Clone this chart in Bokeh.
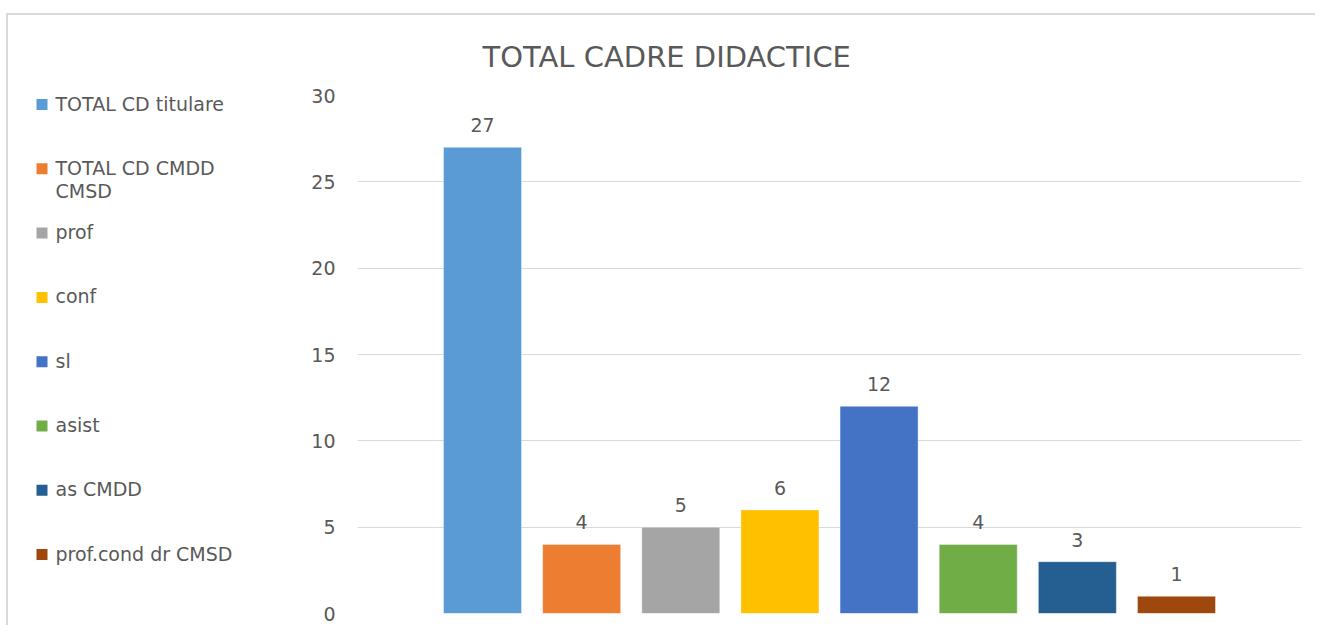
import textwrap
from bokeh.plotting import figure
from bokeh.layouts import row
from bokeh.models import ColumnDataSource, Range1d, SingleIntervalTicker, Title
from bokeh.core.properties import value
from bokeh.embed import file_html
from bokeh.resources import INLINE

# ---- data ----
categories = ["TOTAL CD titulare", "TOTAL CD CMDD CMSD", "prof", "conf", "sl",
              "asist", "as CMDD", "prof.cond dr CMSD"]
values = [27, 4, 5, 6, 12, 4, 3, 1]
colors = ["#5B9BD5", "#ED7D31", "#A5A5A5", "#FFC000", "#4472C4",
          "#70AD47", "#255E91", "#9E480E"]
y_ticks_interval = 5
y_max = 30
title_text = "TOTAL CADRE DIDACTICE"

FONT = "DejaVu Sans"
TXT = "#595959"
GRID = "#d9d9d9"
FS = "19px"

idx = list(range(len(categories)))
src = ColumnDataSource(dict(
    x=idx, top=values, color=colors, cat=categories,
    label=[str(v) for v in values],
    wrapped=["\n".join(textwrap.wrap(c, 17)) for c in categories],
))

# ---- legend panel ----
leg = figure(width=299, height=610, output_backend="svg", toolbar_location=None,
             x_range=Range1d(0, 299), y_range=Range1d(7.917, -0.14),
             min_border=0, x_axis_location=None, y_axis_location=None)
leg.grid.visible = False
leg.outline_line_color = None
leg.rect(x=33.5, y="x", width=11, height=11, width_units="screen",
         height_units="screen", fill_color="color", line_color=None, source=src)
leg.text(x=47, y="x", text="wrapped", source=src, text_font=value(FONT),
         text_font_size=FS, text_color=TXT, text_baseline="top",
         text_align="left", y_offset=-12, text_line_height=1.07)

# ---- main chart ----
p = figure(width=1008, height=610, output_backend="svg", toolbar_location=None,
           x_range=Range1d(-1.261, 8.261), y_range=Range1d(0, y_max),
           min_border_left=50, min_border_right=14, min_border_top=80,
           min_border_bottom=12, x_axis_location=None)
p.outline_line_color = None
p.xgrid.visible = False
p.ygrid.grid_line_color = GRID
p.ygrid.grid_line_width = 1
p.yaxis.ticker = SingleIntervalTicker(interval=y_ticks_interval)
p.yaxis.axis_line_color = None
p.yaxis.major_tick_line_color = None
p.yaxis.minor_tick_line_color = None
p.yaxis.major_label_text_font = FONT
p.yaxis.major_label_text_font_size = FS
p.yaxis.major_label_text_color = TXT
p.yaxis.major_label_standoff = 16

p.vbar(x="x", top="top", width=0.787, fill_color="color",
       line_color="white", line_alpha=0.4, line_width=1, source=src)
p.text(x="x", y="top", text="label", source=src, text_font=value(FONT),
       text_font_size=FS, text_color=TXT, text_align="center",
       text_baseline="bottom", y_offset=-15)

t = Title(text=title_text, align="left", offset=125, text_font=FONT,
          text_font_size="29px", text_color=TXT, text_font_style="normal",
          standoff=44)
p.add_layout(t, "above")

layout = row(leg, p, styles={"border-top": "2px solid #d9d9d9",
                             "border-left": "2px solid #d9d9d9",
                             "margin-top": "13px", "margin-left": "6px"})

open("out.html", "w").write(file_html(layout, INLINE))
